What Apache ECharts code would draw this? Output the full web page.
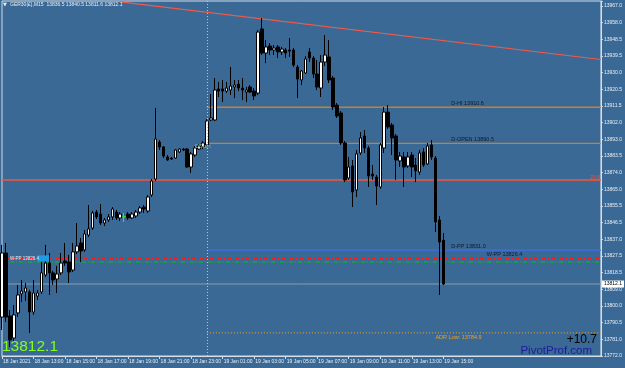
<!DOCTYPE html>
<html><head><meta charset="utf-8">
<script src="https://cdn.jsdelivr.net/npm/echarts@6/dist/echarts.min.js"></script>
<style>html,body{margin:0;padding:0;background:#3b6995;}#c{width:625px;height:368px;}</style>
</head><body><div id="c"></div>
<script>
// ---- data ----
const xTickLabels = ['18 Jan 2021','18 Jan 13:00','18 Jan 15:00','18 Jan 17:00','18 Jan 19:00','18 Jan 21:00','18 Jan 23:00','19 Jan 01:00','19 Jan 03:00','19 Jan 05:00','19 Jan 07:00','19 Jan 09:00','19 Jan 11:00','19 Jan 13:00','19 Jan 15:00'];
const yTickLabels = ['13772.0','13781.0','13790.5','13800.0','13809.0','13818.5','13827.5','13837.0','13846.5','13855.5','13865.0','13874.0','13883.5','13893.0','13902.0','13911.5','13920.5','13930.0','13939.5','13948.5','13958.0','13967.0'];
const opens = [13793.7,13829.4,13794.3,13782.0,13796.0,13806.6,13807.7,13807.7,13796.5,13805.4,
13807.7,13817.1,13823.8,13818.3,13814.9,13818.3,13824.9,13824.4,13819.9,13830.0,
13835.0,13831.1,13839.4,13843.3,13852.2,13851.1,13846.1,13847.8,13849.5,13852.2,
13848.9,13849.5,13851.1,13848.9,13850.0,13852.2,13855.0,13852.8,13861.7,13870.6,
13891.2,13888.5,13882.9,13882.3,13882.3,13885.7,13887.3,13887.3,13877.3,13884.0,
13887.3,13888.5,13889.6,13903.5,13903.5,13920.8,13920.8,13919.6,13920.2,13921.9,
13923.5,13921.3,13919.1,13921.9,13919.6,13918.5,13954.2,13940.8,13944.7,13942.5,
13944.2,13941.4,13942.5,13942.5,13942.5,13933.0,13925.8,13929.7,13941.4,13938.0,
13929.1,13921.3,13935.8,13938.6,13926.9,13911.8,13907.4,13890.7,13871.2,13877.9,
13864.5,13885.1,13894.6,13887.9,13873.4,13871.7,13866.2,13887.9,13907.9,13900.7,
13894.6,13880.7,13882.9,13877.9,13884.0,13878.4,13874.5,13885.7,13879.0,13889.6,
13882.3,13847.8,13836.5];
const closes = [13829.4,13793.7,13780.9,13794.9,13806.0,13808.2,13809.9,13796.5,13807.1,13807.1,
13818.3,13823.8,13818.3,13814.4,13817.7,13823.8,13823.8,13818.8,13830.0,13833.3,
13830.5,13840.0,13842.8,13851.7,13849.5,13846.1,13847.8,13849.5,13853.9,13848.9,
13851.1,13849.6,13848.9,13851.1,13852.2,13854.5,13853.9,13860.6,13869.5,13892.9,
13888.5,13883.4,13881.2,13881.8,13886.8,13887.3,13886.8,13877.3,13884.6,13887.9,
13889.0,13890.7,13902.9,13904.6,13920.2,13919.6,13919.6,13921.3,13922.4,13923.0,
13921.3,13920.2,13920.2,13919.1,13916.9,13952.5,13940.8,13944.2,13942.5,13943.6,
13941.4,13943.0,13940.8,13941.9,13934.1,13926.3,13930.8,13937.5,13938.0,13929.1,
13921.9,13935.8,13939.7,13925.8,13910.7,13905.7,13890.7,13870.1,13877.3,13863.4,
13884.6,13893.5,13887.9,13872.3,13872.3,13866.7,13889.6,13907.9,13899.6,13893.5,
13881.2,13883.4,13877.3,13882.9,13877.3,13875.1,13885.1,13878.4,13889.0,13882.9,
13846.7,13835.5,13812.1];
const lows = [13786.5,13791.0,13777.0,13779.8,13793.7,13802.1,13802.7,13784.8,13794.9,13803.2,
13806.6,13816.0,13806.0,13811.6,13807.1,13817.1,13822.2,13812.7,13818.8,13828.8,
13824.4,13830.0,13838.3,13842.2,13848.3,13845.0,13844.4,13846.7,13847.8,13847.8,
13847.2,13846.7,13847.8,13848.3,13848.9,13851.1,13851.7,13851.7,13860.6,13869.5,
13886.8,13882.3,13880.7,13881.2,13881.8,13885.1,13886.2,13876.8,13874.0,13882.9,
13886.8,13887.3,13888.5,13902.9,13902.9,13916.3,13913.5,13918.5,13917.4,13915.7,
13919.6,13914.6,13913.5,13918.5,13914.6,13917.4,13939.7,13935.2,13939.7,13939.7,
13938.0,13939.7,13938.0,13938.6,13933.0,13915.7,13923.0,13929.1,13935.8,13926.9,
13920.2,13916.3,13933.6,13924.1,13909.1,13904.6,13889.6,13868.9,13870.1,13855.0,
13860.6,13884.0,13885.1,13866.2,13870.1,13856.1,13865.1,13885.1,13898.5,13884.0,
13870.1,13877.3,13866.2,13876.8,13871.7,13868.9,13872.9,13877.3,13878.4,13881.2,
13841.1,13806.0,13811.6];
const highs = [13833.9,13835.0,13797.6,13800.4,13811.6,13814.4,13812.7,13808.8,13814.4,13808.8,
13824.4,13833.9,13829.4,13819.4,13822.2,13829.4,13835.0,13828.3,13835.0,13846.1,
13837.8,13842.2,13856.1,13852.8,13853.4,13856.7,13848.9,13851.1,13855.0,13853.4,
13852.2,13851.7,13852.2,13852.2,13853.4,13855.6,13856.1,13861.7,13870.6,13910.2,
13892.3,13889.0,13884.0,13882.9,13887.3,13887.9,13887.9,13887.9,13885.7,13889.0,
13890.1,13891.8,13904.0,13918.0,13926.9,13924.7,13925.8,13924.7,13933.0,13925.8,
13925.8,13926.9,13921.9,13923.0,13921.3,13953.6,13960.3,13948.1,13946.4,13945.3,
13945.3,13944.2,13943.6,13949.2,13943.6,13934.1,13931.3,13939.1,13943.6,13939.1,
13936.9,13939.7,13950.8,13948.1,13928.0,13913.0,13908.5,13891.8,13882.9,13881.2,
13886.8,13896.8,13897.9,13889.0,13878.4,13872.9,13890.7,13910.7,13911.8,13901.8,
13895.7,13885.7,13885.7,13885.7,13885.7,13882.3,13886.8,13887.9,13890.7,13892.3,
13883.4,13850.0,13840.5];
const greenBarIndex = 31;
const dayHigh = 13910.6, dayOpen = 13890.5, dayPivot = 13831.0, weekPivot = 13826.4, weekLevel2 = 13824.3;
const fibLevel = 13870.1, bidPrice = 13812.1, adrLow = 13784.9;
const trendLine = [[30, 13969.3], [152, 13937.2]];
const daySeparator = 52;
const headerText = 'GER30(£),M15  13836.5 13840.5 13811.6 13812.1';
const changeText = '+10.7';

// ---- build ----
const TOTAL = 153;
const categories = [];
for (let i = 0; i < TOTAL; i++) {
  const m = 11 * 60 + 15 * i;
  const d = 18 + Math.floor(m / 1440), mm = m % 1440;
  categories.push(d + ' Jan ' + String(Math.floor(mm / 60)).padStart(2, '0') + ':' + String(mm % 60).padStart(2, '0'));
}
const yMin = parseFloat(yTickLabels[0]);
const yStep = (parseFloat(yTickLabels[yTickLabels.length - 1]) - yMin) / (yTickLabels.length - 1);
const yMax = 13969.8;
const candleData = opens.map((o, i) => {
  const v = [o, closes[i], lows[i], highs[i]];
  if (i === greenBarIndex) return { value: v, itemStyle: { color: '#22ee22', color0: '#22ee22', borderColor: '#22ee22', borderColor0: '#22ee22' } };
  return v;
});
const frameColor = '#d6dee8', textColor = '#e8eef5', FONT = '"Liberation Sans", Arial, sans-serif';
const tickShow = (i) => i % 8 === 0 && i <= 112;
const levelLine = (from, to, v, color, width, type, dashOffset, z, label) => ({
  type: 'line', z: z || 1, silent: true, symbol: 'none', clip: true, data: [[from, v], [to, v]],
  lineStyle: { color, width, type, dashOffset: dashOffset || 0 },
  endLabel: label ? Object.assign({ show: true }, label) : { show: false }
});

const chart = echarts.init(document.getElementById('c'), null, { renderer: 'canvas' });
chart.setOption({
  backgroundColor: '#3b6995',
  animation: false,
  grid: { left: 2, right: 23, top: 1, bottom: 12, show: true, borderColor: frameColor, borderWidth: 1, backgroundColor: 'transparent' },
  xAxis: {
    type: 'category', data: categories, boundaryGap: false,
    axisLine: { lineStyle: { color: frameColor, width: 1 } },
    axisTick: { show: true, interval: tickShow, length: 3, lineStyle: { color: frameColor } },
    axisLabel: { interval: tickShow, formatter: (v, i) => xTickLabels[i / 8] || '', align: 'left', color: textColor, fontSize: 5, fontFamily: FONT, margin: 3, padding: [0, 0, 0, 1] },
    splitLine: { show: false }
  },
  yAxis: [
    { type: 'value', min: yMin, max: yMax, show: false, splitLine: { show: false } },
    { type: 'value', position: 'right', min: 0, max: yMax - yMin, interval: yStep,
      axisLine: { show: true, lineStyle: { color: frameColor } },
      axisTick: { show: true, length: 2, lineStyle: { color: frameColor } },
      axisLabel: { color: textColor, fontSize: 5, fontFamily: FONT, margin: 3,
        formatter: (v) => { const k = Math.round(v / yStep); return (Math.abs(v - k * yStep) < 0.05 && k < yTickLabels.length) ? yTickLabels[k] : ''; } },
      splitLine: { show: false } }
  ],
  series: [
    levelLine(0, 152, fibLevel, '#f4563e', 1.6, 'solid'),
    levelLine(daySeparator, 152, dayHigh, '#c8802c', 1.3, 'solid'),
    levelLine(daySeparator, 152, dayOpen, '#c8802c', 1.3, 'solid'),
    levelLine(daySeparator, 152, dayPivot, '#3f6ee8', 1.2, 'solid'),
    levelLine(0, 152, weekPivot, '#ff1a1a', 1.2, [4, 2, 1, 2]),
    levelLine(0, 152, weekLevel2, '#1ea83c', 1.2, [4, 2, 1, 2], 1),
    levelLine(0, 152, bidPrice, '#8c9cb0', 1, 'solid', 0, 1,
      { formatter: bidPrice.toFixed(1), backgroundColor: '#ffffff', color: '#000', fontSize: 5, fontFamily: FONT, padding: [1, 2, 1, 2], distance: 1 }),
    levelLine(daySeparator, 152, adrLow, '#f0a020', 1, [1, 2]),
    { type: 'line', data: [], z: 1, silent: true,
      markLine: { symbol: ['none', 'none'], silent: true, animation: false, label: { show: false },
        data: [ { xAxis: daySeparator, lineStyle: { color: '#b8c6d4', width: 1, type: [1, 2] } } ] } },
    { type: 'line', data: trendLine, z: 2, symbol: 'none', silent: true, clip: true,
      lineStyle: { color: '#f05a48', width: 1.2 } },
    { type: 'candlestick', data: candleData, z: 3, barWidth: 3, silent: true,
      itemStyle: { color: '#ffffff', color0: '#000000', borderColor: '#000000', borderColor0: '#000000', borderWidth: 1 } }
  ]
});

function px(bar, price) { return chart.convertToPixel({ xAxisIndex: 0, yAxisIndex: 0 }, [bar, price]); }
const t = (p, text, fill, size, align, valign, dx, dy) => ({ type: 'text', x: p[0] + (dx || 0), y: p[1] + (dy || 0), z: 10, silent: true,
  style: { text, fill, fontSize: size, fontFamily: FONT, align: align || 'left', verticalAlign: valign || 'middle' } });
const pHi = px(114, dayHigh), pOp = px(114, dayOpen), pPP = px(114, dayPivot), pW = px(123, weekPivot);
const pAdr = px(110, adrLow), pFib = px(152, fibLevel), pDs = px(49.2, dayOpen), pWl = px(1.5, weekPivot);
const box0 = px(9, weekPivot), box1 = px(12.3, weekPivot);
chart.setOption({ graphic: [
  t(pHi, 'D-HI ' + dayHigh.toFixed(1), '#10182a', 5.5, 'left', 'bottom', 0, -1),
  t(pOp, 'D-OPEN ' + dayOpen.toFixed(1), '#10182a', 5.5, 'left', 'bottom', 0, -1),
  t(pPP, 'D-PP ' + dayPivot.toFixed(1), '#10182a', 5.5, 'left', 'bottom', 0, -1),
  t(pW, 'W-PP ' + weekPivot.toFixed(1), '#10182a', 5.5, 'left', 'bottom', 0, -1),
  t(pAdr, 'ADR Low: ' + adrLow.toFixed(1), '#f0a020', 5.5, 'left', 'top', 0, 2),
  t(pFib, '23.6', '#e8584a', 5, 'right', 'bottom', -1, 0),
  t(pDs, 'DStart', '#78b8a0', 5.5, 'left', 'middle', 0, 3),
  t(pWl, 'W-PP 13826.4', '#e8eef5', 4.5, 'left', 'middle', 0, 0),
  { type: 'rect', z: 9, silent: true, shape: { x: box0[0], y: box0[1] - 3, width: box1[0] - box0[0], height: 6 }, style: { fill: '#1e9be6' } },
  { type: 'text', left: 3, top: 2, z: 10, silent: true, style: { text: '▼', fill: '#e8eef5', fontSize: 5, fontFamily: 'DejaVu Sans' } },
  { type: 'text', left: 10, top: 2, z: 10, silent: true, style: { text: headerText, fill: '#e8eef5', fontSize: 5, fontFamily: FONT } },
  { type: 'text', left: 2, top: 339, z: 10, silent: true, style: { text: bidPrice.toFixed(1), fill: '#84ff1c', fontSize: 15.5, fontFamily: FONT } },
  { type: 'text', right: 28, top: 334, z: 10, silent: true, style: { text: changeText, fill: '#000000', fontSize: 12, fontFamily: FONT } },
  { type: 'text', right: 33, top: 345, z: 10, silent: true, style: { text: 'PivotProf.com', fill: '#1c1c9c', fontSize: 11.5, fontFamily: FONT } }
] });
</script></body></html>
